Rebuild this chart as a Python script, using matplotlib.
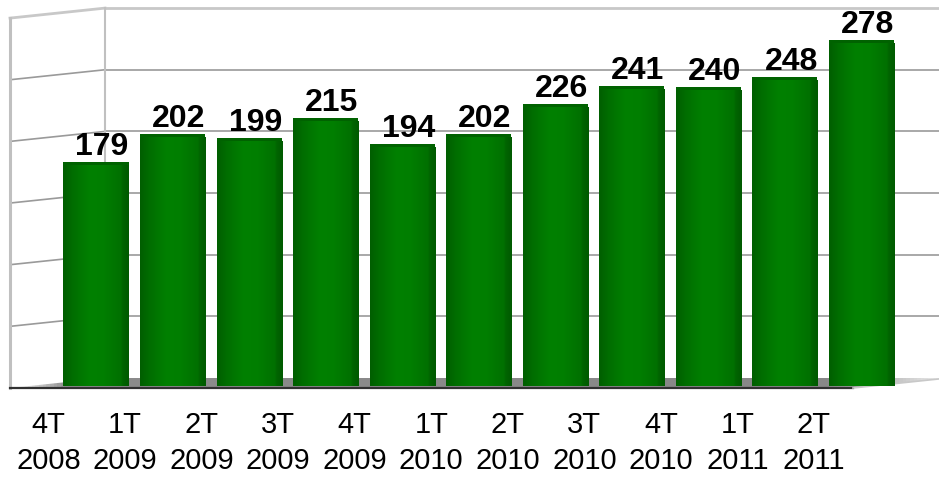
import matplotlib.pyplot as plt
import numpy as np
from matplotlib.colors import LinearSegmentedColormap
from matplotlib.patches import Polygon

plt.rcParams['font.family'] = ['Liberation Sans', 'DejaVu Sans']

# data
labels = ['4T\n2008', '1T\n2009', '2T\n2009', '3T\n2009', '4T\n2009', '1T\n2010',
          '2T\n2010', '3T\n2010', '4T\n2010', '1T\n2011', '2T\n2011']
values = [179, 202, 199, 215, 194, 202, 226, 241, 240, 248, 278]
grid_ticks = [0, 50, 100, 150, 200, 250, 300]

W, H = 939, 478
fig = plt.figure(figsize=(W / 100, H / 100), dpi=100)

# background "3d box" drawn in pixel coordinates
bg = fig.add_axes([0, 0, 1, 1])
bg.set_xlim(0, W)
bg.set_ylim(H, 0)
bg.axis('off')

ppu = 1.233          # pixels per value unit
back_bottom = 378    # y of value 0 on the back wall
depth_dx, depth_dy = 95, 10
back_left = 105
front_left = back_left - depth_dx

for t in grid_ticks:
    yb = back_bottom - t * ppu
    yf = yb + depth_dy
    if t == grid_ticks[-1]:
        c, lw = '#c8c8c8', 2
    elif t == 0:
        continue
    else:
        c, lw = '#9a9a9a', 1.2
    bg.plot([back_left, W], [yb, yb], color=c, lw=lw, zorder=1)
    bg.plot([front_left, back_left], [yf, yb], color=c, lw=lw, zorder=1)

top_b = back_bottom - grid_ticks[-1] * ppu
bg.plot([back_left, back_left], [top_b, back_bottom], color='#c0c0c0', lw=1.5, zorder=1)
bg.plot([front_left, front_left], [top_b + depth_dy, back_bottom + depth_dy],
        color='#c0c0c0', lw=2.2, zorder=1)

# floor with a grey gradient
floor_right = 853
floor = Polygon([(front_left, back_bottom + depth_dy), (floor_right, back_bottom + depth_dy),
                 (floor_right + depth_dx, back_bottom), (back_left, back_bottom)],
                closed=True, facecolor='none', edgecolor='none')
bg.add_patch(floor)
fcmap = LinearSegmentedColormap.from_list('floor', [(0, '#ffffff'), (0.06, '#8c8c8c'),
                                                    (0.88, '#888888'), (1, '#e8e8e8')])
grad = np.linspace(0, 1, 256).reshape(1, -1)
im = bg.imshow(grad, cmap=fcmap, aspect='auto', extent=[front_left, W, back_bottom + depth_dy, back_bottom],
               zorder=0.5)
im.set_clip_path(floor)
bg.plot([front_left, floor_right], [back_bottom + depth_dy] * 2, color='#303030', lw=1.6, zorder=2)
bg.plot([floor_right, W], [back_bottom + depth_dy, back_bottom + depth_dy - (W - floor_right) * depth_dy / depth_dx],
        color='#c8c8c8', lw=1.2, zorder=2)

# bars in their own axes, baseline at pixel row 386
base_px = 386
spacing = 76.55
first_center = 96
ax = fig.add_axes([0, (H - base_px) / H, 1, 300 * ppu / H])
ax.set_ylim(0, 300)
ax.set_xlim(-first_center / spacing, (W - first_center) / spacing)
ax.axis('off')
ax.patch.set_alpha(0)

x = np.arange(len(values))
bar_w = 0.85
bars = ax.bar(x, values, width=bar_w, color='#007800', zorder=2, clip_on=False)

gcmap = LinearSegmentedColormap.from_list('bar', [(0, '#005e00'), (0.15, '#006e00'), (0.4, '#008000'),
                                                  (0.62, '#007e00'), (0.8, '#007400'), (0.88, '#007000'),
                                                  (0.91, '#006400'), (1, '#005a00')])
for b in bars:
    x0, w, h = b.get_x(), b.get_width(), b.get_height()
    g = ax.imshow(grad, cmap=gcmap, aspect='auto', extent=[x0, x0 + w, 0, h + 2], zorder=3, clip_on=True)
    g.set_clip_path(b)
    # darker cap along the top
    ax.bar(x0 + w / 2, 2.5, bottom=h, width=w, color='#006200', zorder=4, clip_on=False)

ax.set_xlim(-first_center / spacing, (W - first_center) / spacing)
ax.set_ylim(0, 300)

for xi, v in zip(x, values):
    ax.text(xi + 0.08, v + 2.5, str(v), ha='center', va='bottom', fontsize=23,
            fontweight='bold', color='#000000', clip_on=False)

label_shift = 47.5 / spacing
for xi, lab in zip(x, labels):
    ax.text(xi - label_shift, -(443 - base_px) / ppu, lab, ha='center', va='center',
            fontsize=21, linespacing=1.38, color='#000000', clip_on=False)

fig.savefig('out.png', dpi=100)
